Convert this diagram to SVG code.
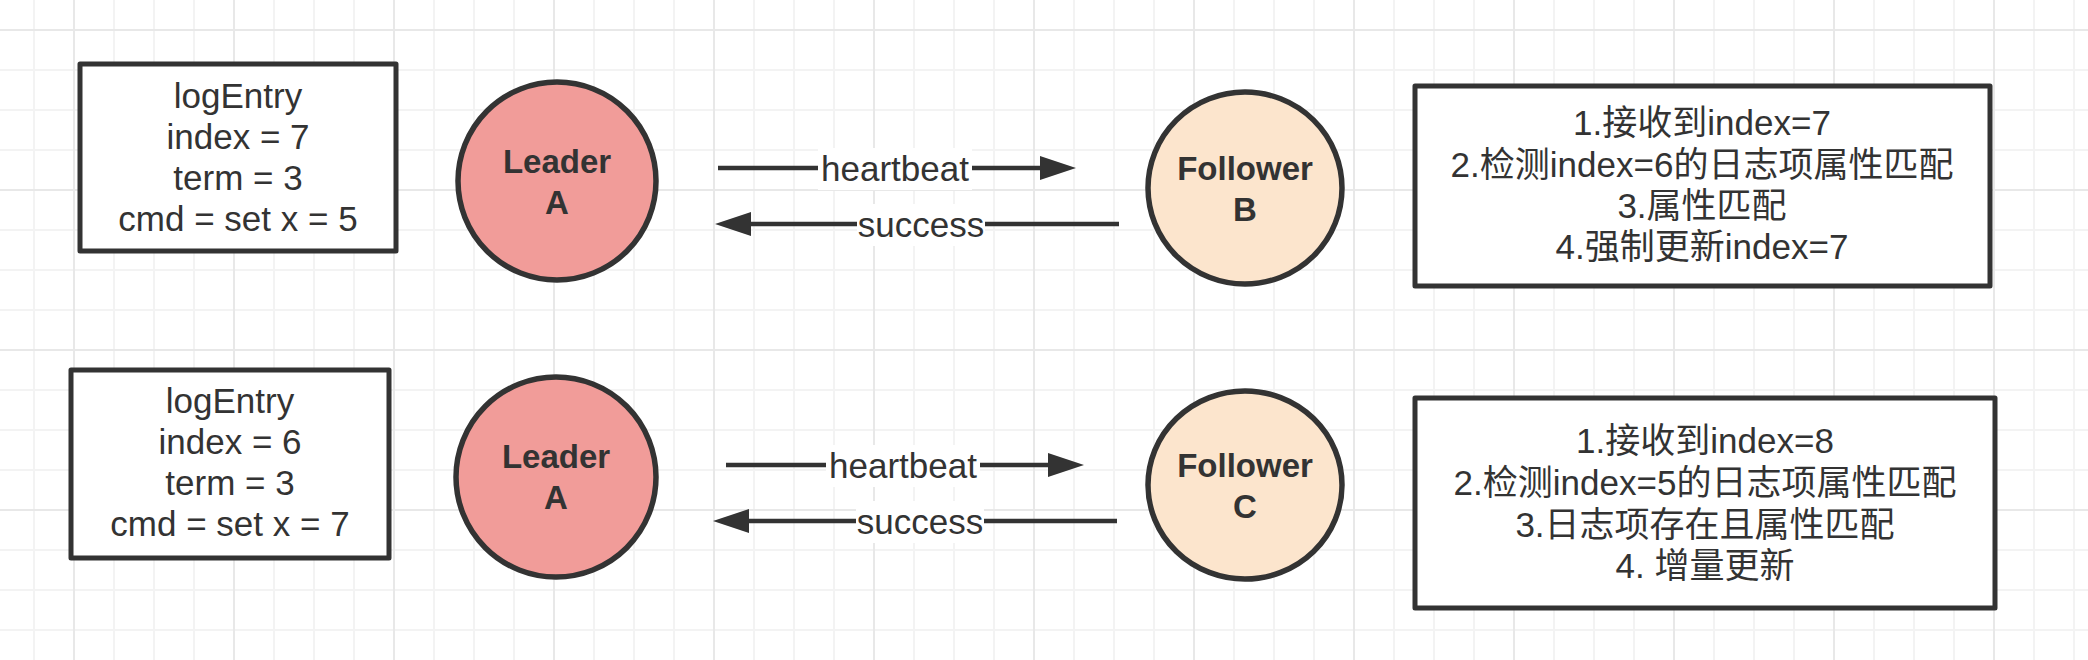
<svg xmlns="http://www.w3.org/2000/svg" width="2088" height="660" viewBox="0 0 2088 660">
<style>
.box{fill:#ffffff;stroke:#333333;stroke-width:5;stroke-linejoin:round}
.leader{fill:#f19c99;stroke:#333333;stroke-width:5.5}
.follower{fill:#fce5cd;stroke:#333333;stroke-width:5.5}
.t{font-family:"Liberation Sans","Noto Sans CJK SC",sans-serif;font-size:35px;fill:#333333;text-anchor:middle}
.b{font-family:"Liberation Sans","Noto Sans CJK SC",sans-serif;font-size:33px;font-weight:bold;fill:#333333;text-anchor:middle}
.edge{stroke:#333333;stroke-width:4.5;fill:none;marker-end:url(#arrow)}
.lbg{fill:#ffffff}
</style>
<defs>
<pattern id="minor" x="0" y="0" width="40" height="40" patternUnits="userSpaceOnUse">
<rect x="33" y="0" width="2" height="40" fill="#f3f3f3"/>
<rect x="0" y="29" width="40" height="2" fill="#f3f3f3"/>
</pattern>
<pattern id="major" x="0" y="0" width="160" height="160" patternUnits="userSpaceOnUse">
<rect x="73" y="0" width="2" height="160" fill="#e8e8e8"/>
<rect x="0" y="29" width="160" height="2" fill="#e8e8e8"/>
</pattern>
<marker id="arrow" markerUnits="userSpaceOnUse" viewBox="0 0 36 24" refX="6" refY="12" markerWidth="36" markerHeight="24" orient="auto">
<path d="M0,0 L36,12 L0,24 Z" fill="#333333"/>
</marker>
</defs>
<rect width="2088" height="660" fill="#ffffff"/>
<rect width="2088" height="660" fill="url(#minor)"/>
<rect width="2088" height="660" fill="url(#major)"/>

<g id="connectors">
<g id="hb1">
<line class="edge" x1="718" y1="168" x2="1046" y2="168"/>
<rect class="lbg" x="818" y="148" width="154" height="42"/>
<text class="t" x="895" y="181">heartbeat</text>
</g>
<g id="succ1">
<line class="edge" x1="1119" y1="224" x2="745" y2="224"/>
<rect class="lbg" x="857" y="204" width="128" height="42"/>
<text class="t" x="921" y="237">success</text>
</g>
<g id="hb2">
<line class="edge" x1="726" y1="465" x2="1054" y2="465"/>
<rect class="lbg" x="826" y="445" width="154" height="42"/>
<text class="t" x="903" y="478">heartbeat</text>
</g>
<g id="succ2">
<line class="edge" x1="1117" y1="521" x2="743" y2="521"/>
<rect class="lbg" x="856" y="501" width="128" height="42"/>
<text class="t" x="920" y="534">success</text>
</g>
</g>

<g id="logEntry1">
<rect class="box" x="80" y="64" width="316" height="187"/>
<text class="t" x="238" y="108">logEntry</text>
<text class="t" x="238" y="149">index = 7</text>
<text class="t" x="238" y="190">term = 3</text>
<text class="t" x="238" y="231">cmd = set x = 5</text>
</g>
<g id="leaderA1">
<circle class="leader" cx="557" cy="181" r="99"/>
<text class="b" x="557" y="173">Leader</text>
<text class="b" x="557" y="214">A</text>
</g>
<g id="followerB">
<ellipse class="follower" cx="1245" cy="188" rx="97" ry="96"/>
<text class="b" x="1245" y="180">Follower</text>
<text class="b" x="1245" y="221">B</text>
</g>
<g id="info1">
<rect class="box" x="1415" y="86" width="575" height="200"/>
<text class="t" x="1702" y="135">1.接收到index=7</text>
<text class="t" x="1702" y="177">2.检测index=6的日志项属性匹配</text>
<text class="t" x="1702" y="218">3.属性匹配</text>
<text class="t" x="1702" y="259">4.强制更新index=7</text>
</g>

<g id="logEntry2">
<rect class="box" x="71" y="370" width="318" height="188"/>
<text class="t" x="230" y="413">logEntry</text>
<text class="t" x="230" y="454">index = 6</text>
<text class="t" x="230" y="495">term = 3</text>
<text class="t" x="230" y="536">cmd = set x = 7</text>
</g>
<g id="leaderA2">
<circle class="leader" cx="556" cy="477" r="100"/>
<text class="b" x="556" y="468">Leader</text>
<text class="b" x="556" y="509">A</text>
</g>
<g id="followerC">
<ellipse class="follower" cx="1245" cy="485" rx="97" ry="94"/>
<text class="b" x="1245" y="477">Follower</text>
<text class="b" x="1245" y="518">C</text>
</g>
<g id="info2">
<rect class="box" x="1415" y="398" width="580" height="210"/>
<text class="t" x="1705" y="453">1.接收到index=8</text>
<text class="t" x="1705" y="495">2.检测index=5的日志项属性匹配</text>
<text class="t" x="1705" y="537">3.日志项存在且属性匹配</text>
<text class="t" x="1705" y="578">4. 增量更新</text>
</g>
</svg>
